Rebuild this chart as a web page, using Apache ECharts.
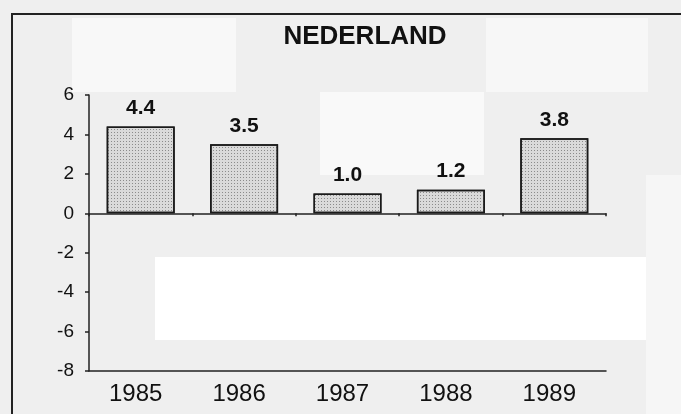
<!DOCTYPE html>
<html>
<head>
<meta charset="utf-8">
<script src="https://cdn.jsdelivr.net/npm/echarts@6/dist/echarts.min.js"></script>
<style>
html,body{margin:0;padding:0;background:#efefef;}
#main{width:681px;height:414px;}
</style>
</head>
<body>
<div id="main"></div>
<script>
const chartTitle = 'NEDERLAND';
const categories = ['1985', '1986', '1987', '1988', '1989'];
const values = [4.4, 3.5, 1.0, 1.2, 3.8];
const yTickValues = [-8, -6, -4, -2, 0, 2, 4, 6];

const chart = echarts.init(document.getElementById('main'), null, {renderer: 'canvas'});
const FONT = 'Liberation Sans, Arial, sans-serif';

chart.setOption({
  backgroundColor: '#efefef',
  animation: false,
  title: {
    text: chartTitle,
    left: 360, top: 19, textAlign: 'center',
    textStyle: {fontFamily: FONT, fontSize: 26, fontWeight: 'bold', color: '#111'}
  },
  graphic: [
    {type: 'rect', z: -10, shape: {x: 72, y: 18, width: 164, height: 74}, style: {fill: '#f8f8f8'}},
    {type: 'rect', z: -10, shape: {x: 486, y: 18, width: 162, height: 74}, style: {fill: '#f7f7f7'}},
    {type: 'rect', z: -10, shape: {x: 320, y: 92, width: 164, height: 83}, style: {fill: '#f9f9f9'}},
    {type: 'rect', z: -10, shape: {x: 646, y: 175, width: 35, height: 239}, style: {fill: '#f6f6f6'}},
    {type: 'rect', z: -10, shape: {x: 155, y: 257, width: 491, height: 83}, style: {fill: '#ffffff'}},
    {type: 'line', shape: {x1: 11, y1: 14, x2: 681, y2: 14}, style: {stroke: '#222', lineWidth: 2}},
    {type: 'line', shape: {x1: 12, y1: 14, x2: 12, y2: 414}, style: {stroke: '#222', lineWidth: 2}}
  ],
  grid: {left: 89, right: 75, top: 95, bottom: 43, containLabel: false},
  xAxis: [
    {
      type: 'category', data: categories,
      axisLine: {onZero: true, lineStyle: {color: '#222', width: 1.5}},
      axisTick: {show: true, length: 3, lineStyle: {color: '#222', width: 1.5}},
      axisLabel: {show: false}
    },
    {
      type: 'category', data: categories, position: 'bottom',
      axisLine: {onZero: false, lineStyle: {color: '#222', width: 1.5}},
      axisTick: {show: false},
      axisLabel: {fontFamily: FONT, fontSize: 24, color: '#111', margin: 11, padding: [0, 10, 0, 0]}
    }
  ],
  yAxis: {
    type: 'value',
    min: yTickValues[0], max: yTickValues[yTickValues.length - 1], interval: 2,
    axisLine: {show: true, onZero: false, lineStyle: {color: '#222', width: 1.5}},
    axisTick: {show: true, length: 4, lineStyle: {color: '#222', width: 1.5}},
    axisLabel: {fontFamily: FONT, fontSize: 19, color: '#111', margin: 15},
    splitLine: {show: false}
  },
  series: [{
    type: 'bar',
    data: values,
    barWidth: 68,
    itemStyle: {
      color: '#dadada',
      borderColor: '#1a1a1a',
      borderWidth: 1.5,
      decal: {
        symbol: 'rect',
        symbolSize: 1,
        color: 'rgba(60,60,60,0.5)',
        dashArrayX: [1, 2],
        dashArrayY: [1, 2],
        rotation: 0
      }
    },
    label: {
      show: true, position: 'top', distance: 8,
      fontFamily: FONT, fontSize: 21, fontWeight: 'bold', color: '#111',
      formatter: p => p.value.toFixed(1)
    }
  }]
});
</script>
</body>
</html>
